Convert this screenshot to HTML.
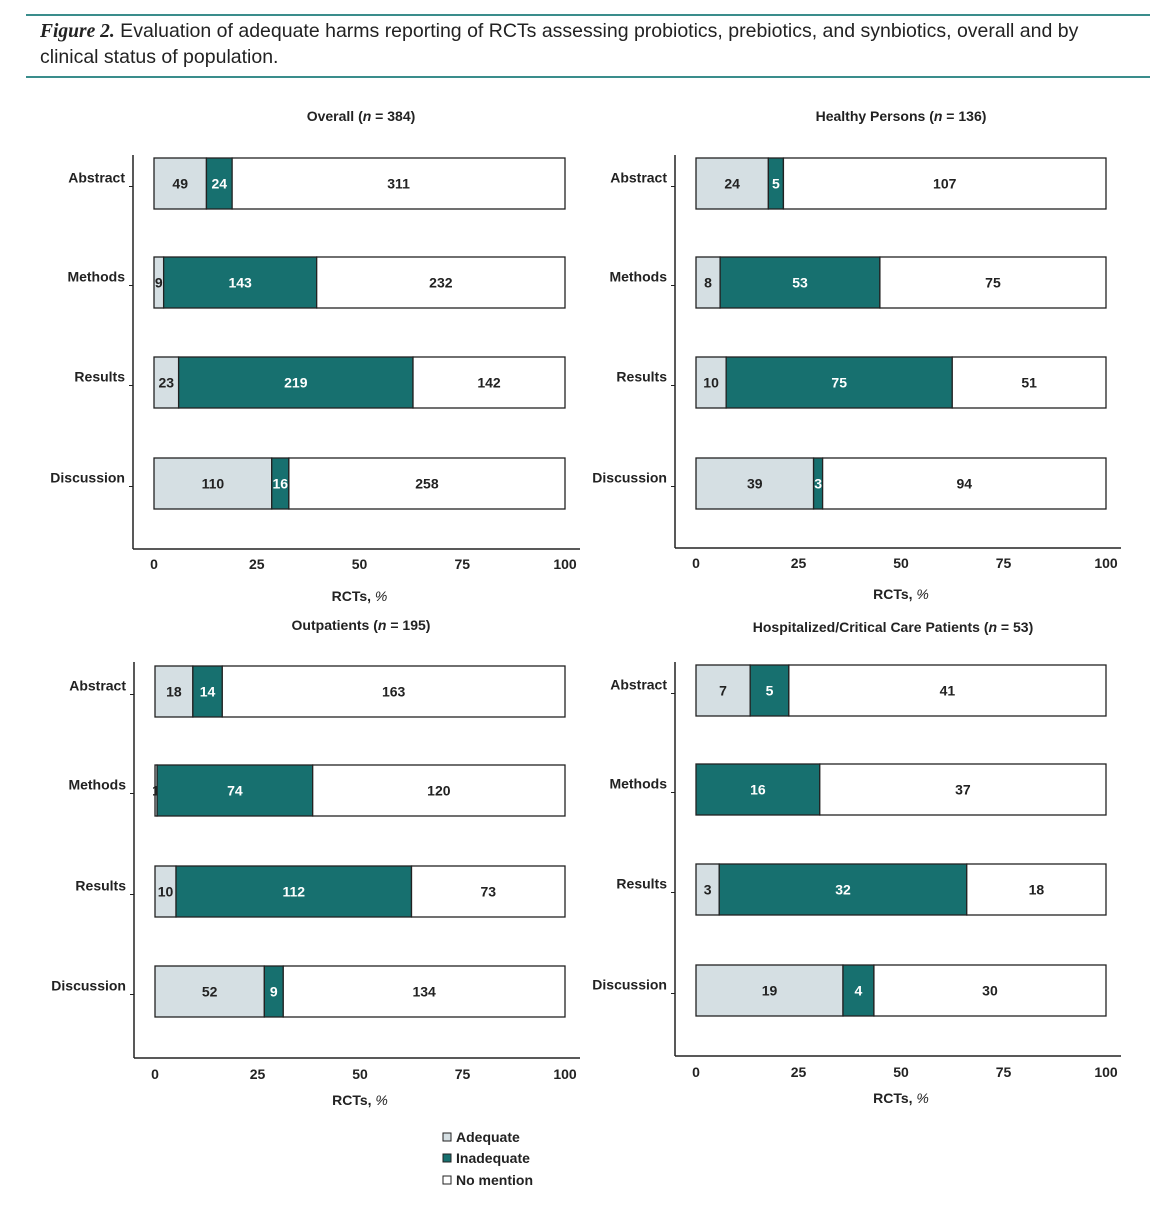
<!DOCTYPE html>
<html><head><meta charset="utf-8">
<style>
html,body{margin:0;padding:0;background:#fff;}
body{width:1168px;height:1200px;overflow:hidden;font-family:"Liberation Sans",sans-serif;}
svg text{font-family:"Liberation Sans",sans-serif;}
</style></head>
<body>
<svg id="fig" width="1168" height="1200" xmlns="http://www.w3.org/2000/svg">
<line x1="26" y1="15" x2="1150" y2="15" stroke="#3a8d8c" stroke-width="2"/>
<line x1="26" y1="77" x2="1150" y2="77" stroke="#3a8d8c" stroke-width="2"/>
<text x="40" y="37" font-size="19.5" fill="#222"><tspan font-family="Liberation Serif" font-style="italic" font-weight="bold">Figure 2.</tspan> Evaluation of adequate harms reporting of RCTs assessing probiotics, prebiotics, and synbiotics, overall and by</text>
<text x="40" y="63" font-size="19.5" fill="#222">clinical status of population.</text>
<g id="legend">
<rect x="443" y="1133" width="8" height="8" fill="#d5dfe3" stroke="#222"/>
<text x="456" y="1142" font-size="14" font-weight="bold" fill="#222">Adequate</text>
<rect x="443" y="1154" width="8" height="8" fill="#17706f" stroke="#222"/>
<text x="456" y="1163" font-size="14" font-weight="bold" fill="#222">Inadequate</text>
<rect x="443" y="1176" width="8" height="8" fill="#fff" stroke="#222"/>
<text x="456" y="1185" font-size="14" font-weight="bold" fill="#222">No mention</text>
</g>
</svg>
<script>
const categories = ["Abstract","Methods","Results","Discussion"];
const ticks = [0,25,50,75,100];
const panelTitles = ["Overall","Healthy Persons","Outpatients","Hospitalized/Critical Care Patients"];
const panelN = [384,136,195,53];
const overallAdequate = [49,9,23,110];
const overallInadequate = [24,143,219,16];
const overallNone = [311,232,142,258];
const healthyAdequate = [24,8,10,39];
const healthyInadequate = [5,53,75,3];
const healthyNone = [107,75,51,94];
const outAdequate = [18,1,10,52];
const outInadequate = [14,74,112,9];
const outNone = [163,120,73,134];
const hospAdequate = [7,0,3,19];
const hospInadequate = [5,16,32,4];
const hospNone = [41,37,18,30];

const NS="http://www.w3.org/2000/svg";
const svg=document.getElementById('fig');
function mk(tag,attrs,parent){const e=document.createElementNS(NS,tag);for(const k in attrs)e.setAttribute(k,attrs[k]);(parent||svg).appendChild(e);return e;}

const layouts=[
 {ax:133,x0:154,x1:565,top:155,bot:549,bars:[158,257,357,458],tickY:569,labY:601,titleY:121,titleX:361,slug:'overall'},
 {ax:675,x0:696,x1:1106,top:155,bot:548,bars:[158,257,357,458],tickY:568,labY:599,titleY:121,titleX:901,slug:'healthy'},
 {ax:134,x0:155,x1:565,top:662,bot:1058,bars:[666,765,866,966],tickY:1079,labY:1105,titleY:630,titleX:361,slug:'outpatients'},
 {ax:675,x0:696,x1:1106,top:662,bot:1056,bars:[665,764,864,965],tickY:1077,labY:1103,titleY:632,titleX:893,slug:'hospitalized'}
];
const series=[[overallAdequate,overallInadequate,overallNone],[healthyAdequate,healthyInadequate,healthyNone],[outAdequate,outInadequate,outNone],[hospAdequate,hospInadequate,hospNone]];
const fills=['#d5dfe3','#17706f','#ffffff'];
const txtFill=['#222','#fff','#222'];
const segNames=['adequate','inadequate','no-mention'];

layouts.forEach((L,p)=>{
  const g=mk('g',{});
  
  
  const xs=v=>L.x0+(L.x1-L.x0)*v/100;
  const t=mk('text',{x:L.titleX,y:L.titleY,'font-size':14,'font-weight':'bold','text-anchor':'middle',fill:'#222'},g);
  
  
  t.innerHTML=panelTitles[p]+' (<tspan font-style="italic">n</tspan> = '+panelN[p]+')';
  const ya=mk('line',{x1:L.ax,y1:L.top,x2:L.ax,y2:L.bot,stroke:'#222','stroke-width':1.5},g);
  
  
  const xa=mk('line',{x1:L.ax,y1:L.bot,x2:L.x1+15,y2:L.bot,stroke:'#222','stroke-width':1.5},g);
  
  
  ticks.forEach(tv=>{
    const tl=mk('text',{x:xs(tv),y:L.tickY,'font-size':14,'font-weight':'bold','text-anchor':'middle',fill:'#222'},g);
    
    
    tl.textContent=tv;
  });
  const xl=mk('text',{x:(L.x0+L.x1)/2,y:L.labY,'font-size':14,'font-weight':'bold','text-anchor':'middle',fill:'#222'},g);
  
  
  xl.innerHTML='RCTs, <tspan font-style="italic" font-weight="normal">%</tspan>';
  categories.forEach((c,i)=>{
    const y=L.bars[i],h=51;
    const cl=mk('text',{x:L.ax-8,y:y+h/2-1,'font-size':14,'font-weight':'bold','text-anchor':'end',fill:'#222'},g);
    
    
    cl.textContent=c;
    const tk=mk('line',{x1:L.ax-4,y1:y+h/2+3,x2:L.ax,y2:y+h/2+3,stroke:'#222'},g);
    
    
    let cum=0;
    const vals=series[p].map(s=>s[i]);
    const tot=vals.reduce((a,b)=>a+b,0);
    vals.forEach((v,k)=>{
      const a=xs(cum/tot*100),b=xs((cum+v)/tot*100);cum+=v;
      if(v===0)return;
      const r=mk('rect',{x:a,y:y,width:b-a,height:h,fill:fills[k],stroke:'#222','stroke-width':1.3},g);
      
      
      const vt=mk('text',{x:(a+b)/2,y:y+h/2+5,'font-size':14,'font-weight':'bold','text-anchor':'middle',fill:txtFill[k]},g);
      
      
      vt.textContent=v;
    });
  });
});
</script>
</body></html>
